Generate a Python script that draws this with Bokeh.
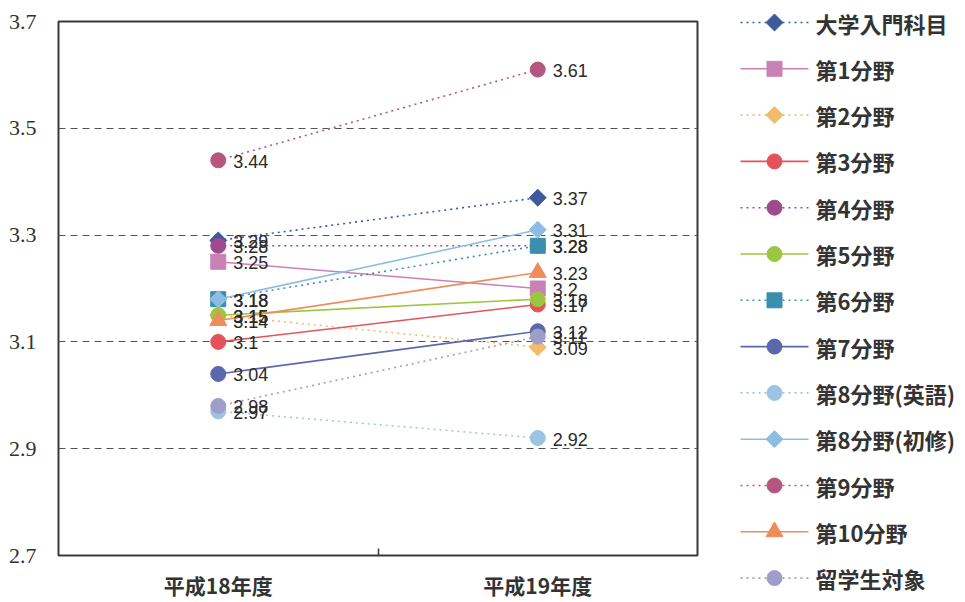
import math
from bokeh.plotting import figure
from bokeh.layouts import row, column
from bokeh.models import (FixedTicker, ColumnDataSource, CustomJSTickFormatter,
                          Range1d)
from bokeh.core.properties import value
from bokeh.embed import file_html
from bokeh.resources import INLINE

# Survey averages per field, two academic years
years = ["平成18年度", "平成19年度"]
series = ["大学入門科目", "第1分野", "第2分野", "第3分野", "第4分野", "第5分野",
          "第6分野", "第7分野", "第8分野(英語)", "第8分野(初修)", "第9分野",
          "第10分野", "留学生対象"]
h18 = [3.29, 3.25, 3.15, 3.10, 3.28, 3.15, 3.18, 3.04, 2.97, 3.18, 3.44, 3.14, 2.98]
h19 = [3.37, 3.20, 3.09, 3.17, 3.28, 3.18, 3.28, 3.12, 2.92, 3.31, 3.61, 3.23, 3.11]

colors = ["#3d5a9e", "#c982b6", "#f2bc6e", "#e5525c", "#9e4a8c", "#9cc640",
          "#3b8fae", "#5a68ad", "#9cc4e2", "#8dbde2", "#b4567e", "#ee8d5c", "#a09ec9"]
markers = ["diamond", "square", "diamond", "circle", "circle", "circle",
           "square", "circle", "circle", "diamond", "circle", "triangle", "circle"]
dotted = [True, False, True, False, True, False,
          True, False, True, False, True, False, True]

y_ticks = [2.7, 2.9, 3.1, 3.3, 3.5, 3.7]

xs = [i + 0.5 for i in range(len(years))]

# diamonds are drawn as squares turned by 45 degrees
shape = {"diamond": ("square", 12, math.pi / 4), "square": ("square", 15, 0),
         "circle": ("circle", 15, 0), "triangle": ("triangle", 17, 0)}

H = 602
p = figure(width=720, height=H, x_range=(0, len(years)), y_range=(2.7, 3.7),
           output_backend="svg", toolbar_location=None,
           min_border_left=58, min_border_right=23, min_border_top=21,
           min_border_bottom=47)
p.background_fill_color = "white"
p.border_fill_color = "white"
p.outline_line_color = "#3a3a3a"
p.outline_line_width = 2

# y axis: serif tick labels, no tick marks
p.yaxis.ticker = FixedTicker(ticks=y_ticks)
p.yaxis.formatter = CustomJSTickFormatter(code="return tick.toFixed(1);")
p.yaxis.axis_line_color = None
p.yaxis.major_tick_line_color = None
p.yaxis.minor_tick_line_color = None
p.yaxis.major_label_text_font = "Liberation Serif"
p.yaxis.major_label_text_font_size = "22px"
p.yaxis.major_label_text_color = "#333333"
p.yaxis.major_label_standoff = 16

# x axis: year labels at category centres, one inner tick between them
p.xaxis.ticker = FixedTicker(ticks=xs, minor_ticks=[1.0])
p.xaxis.major_label_overrides = {x: y for x, y in zip(xs, years)}
p.xaxis.axis_line_color = None
p.xaxis.major_tick_line_color = None
p.xaxis.minor_tick_line_color = "#3a3a3a"
p.xaxis.minor_tick_line_width = 1.5
p.xaxis.minor_tick_in = 7
p.xaxis.minor_tick_out = 0
p.xaxis.major_label_text_font = "Noto Sans CJK JP"
p.xaxis.major_label_text_font_size = "21px"
p.xaxis.major_label_text_font_style = "bold"
p.xaxis.major_label_text_color = "#333333"
p.xaxis.major_label_standoff = 8

p.xgrid.grid_line_color = None
p.ygrid.ticker = FixedTicker(ticks=[2.9, 3.1, 3.3, 3.5])
p.ygrid.grid_line_color = "#555555"
p.ygrid.grid_line_dash = "7 5"
p.ygrid.grid_line_width = 1.2

for a, b, c, m, d in zip(h18, h19, colors, markers, dotted):
    src = ColumnDataSource(dict(x=xs, y=[a, b]))
    mk, sz, ang = shape[m]
    p.line("x", "y", source=src, line_color=c, line_width=1.6,
           line_dash="2 4" if d else "solid")
    p.scatter("x", "y", source=src, marker=mk, size=sz, angle=ang,
              fill_color=c, line_color=c, line_width=1)

# value labels next to each point
for a, b in zip(h18, h19):
    src = ColumnDataSource(dict(x=xs, y=[a, b], lab=[f"{a:g}", f"{b:g}"]))
    p.text("x", "y", text="lab", source=src, x_offset=15, y_offset=1,
           text_font=value("Liberation Sans"), text_font_size="18px",
           text_color="#2a2a2a", text_baseline="middle", text_align="left")

# Key panel: one row per series, top to bottom
n = len(series)
row_px = 46.3
top_px = 22
y0 = -top_px / row_px
y1 = y0 + H / row_px
key = figure(width=245, height=H, x_range=Range1d(0, 245), y_range=Range1d(y1, y0),
             output_backend="svg", toolbar_location=None,
             min_border=0, outline_line_color=None)
key.axis.visible = False
key.grid.grid_line_color = None
key.background_fill_color = "white"
key.border_fill_color = "white"

for i, (c, m, d) in enumerate(zip(colors, markers, dotted)):
    mk, sz, ang = shape[m]
    key.line([20, 88], [i, i], line_color=c, line_width=1.6,
             line_dash="2 4" if d else "solid")
    key.scatter([54], [i], marker=mk, size=sz, angle=ang,
                fill_color=c, line_color=c)

key.text(x=[95] * n, y=list(range(n)), text=series,
         text_font=value("Noto Sans CJK JP"), text_font_size="22px",
         text_font_style="bold", text_color="#333333",
         text_baseline="middle", text_align="left")

open("out.html", "w").write(file_html(row(p, column(key)), INLINE))
